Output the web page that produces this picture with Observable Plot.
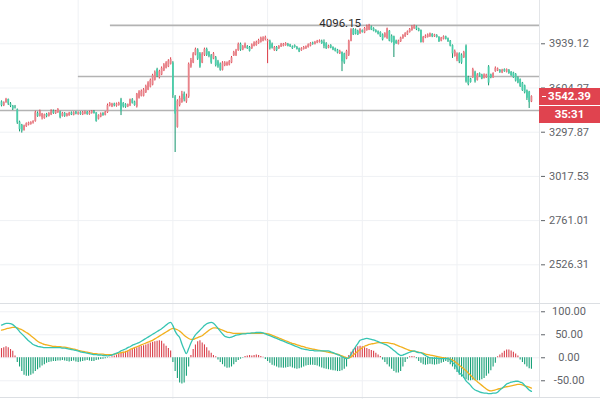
<!DOCTYPE html>
<html><head><meta charset="utf-8">
<script src="https://cdn.jsdelivr.net/npm/d3@7"></script>
<script src="https://cdn.jsdelivr.net/npm/@observablehq/plot@0.6"></script>
<style>
body{margin:0;background:#fff;}
#wrap{position:relative;width:600px;height:399px;overflow:hidden;font-family:Roboto,sans-serif;}
#wrap svg{display:block;}
.tag{position:absolute;left:539px;width:61px;height:17px;background:#e0434f;color:#fff;font:bold 11.5px Roboto,sans-serif;text-align:center;line-height:17px;}
.tag.first::before{content:"";position:absolute;left:3px;top:8px;width:4px;height:1px;background:#fff;}
.sep{position:absolute;background:#dcdfe3;}
</style></head><body><div id="wrap"></div>
<script>
// ---- candle data (index 0..235) ----
const open = [
3505,3478,3500,3522,3490,3475,3470,3450,3365,3345,
3310,3335,3345,3350,3360,3370,3425,3405,3395,3390,
3418,3405,3415,3440,3422,3430,3435,3405,3425,3405,
3410,3428,3412,3432,3418,3430,3415,3420,3432,3418,
3425,3438,3428,3385,3400,3425,3412,3430,3478,3470,
3490,3475,3480,3520,3495,3485,3470,3478,3520,3505,
3470,3530,3545,3545,3570,3590,3610,3625,3660,3740,
3680,3700,3730,3750,3760,3780,3790,3540,3330,3480,
3500,3560,3505,3540,3760,3790,3850,3890,3860,3790,
3850,3895,3870,3845,3820,3830,3800,3780,3735,3770,
3770,3775,3790,3845,3845,3885,3935,3890,3905,3915,
3910,3900,3920,3925,3940,3950,3960,3970,3955,3960,
3935,3885,3910,3900,3915,3920,3925,3935,3930,3915,
3925,3910,3900,3885,3895,3900,3910,3920,3945,3935,
3945,3950,3960,3950,3940,3905,3925,3910,3900,3890,
3860,3870,3860,3820,3850,3960,4055,4050,4040,4020,
4045,4025,4045,4050,4075,4060,4045,4035,4030,4010,
3990,3980,4040,4000,3995,3960,3935,3955,3980,3995,
4010,4030,4045,4060,4075,4060,4045,3950,3985,3990,
3995,4015,3995,4005,3990,3960,3975,3995,3980,3960,
3925,3840,3815,3860,3850,3830,3920,3680,3670,3680,
3720,3660,3710,3700,3675,3680,3760,3700,3680,3725,
3730,3735,3715,3740,3720,3735,3720,3715,3705,3680,
3665,3640,3620,3585,3575,3505];
const high = [
3512,3505,3530,3525,3500,3480,3480,3455,3372,3350,
3345,3360,3365,3368,3375,3440,3435,3448,3425,3420,
3425,3430,3450,3448,3445,3458,3440,3432,3430,3425,
3432,3435,3436,3438,3435,3436,3438,3440,3438,3440,
3445,3445,3430,3415,3428,3430,3438,3490,3500,3495,
3496,3497,3502,3530,3500,3492,3490,3525,3528,3510,
3565,3585,3590,3600,3625,3650,3670,3705,3730,3750,
3735,3760,3785,3800,3815,3830,3800,3550,3520,3545,
3580,3575,3560,3790,3825,3870,3905,3900,3870,3870,
3905,3905,3878,3855,3870,3840,3810,3790,3800,3800,
3798,3808,3840,3880,3895,3945,3945,3925,3945,3925,
3918,3938,3955,3960,3975,3992,3995,4000,3975,3968,
3945,3918,3918,3925,3942,3942,3948,3942,3935,3922,
3930,3918,3905,3908,3918,3922,3938,3948,3952,3958,
3966,3970,3968,3970,3948,3928,3932,3915,3905,3895,
3888,3875,3865,3888,3968,4060,4062,4058,4048,4060,
4050,4070,4090,4096.15,4082,4068,4052,4042,4035,4018,
4028,4065,4045,4010,4000,3968,3968,3992,4012,4028,
4042,4062,4085,4090,4082,4065,4050,3998,4010,4018,
4025,4020,4015,4012,3996,3990,4002,4000,3985,3965,
3930,3890,3868,3868,3860,3880,3930,3690,3675,3750,
3728,3710,3715,3705,3708,3705,3770,3706,3716,3760,
3752,3740,3742,3745,3745,3740,3725,3720,3710,3685,
3670,3645,3625,3590,3580,3548];
const low = [
3470,3472,3495,3480,3465,3445,3455,3350,3300,3292,
3305,3330,3340,3345,3352,3365,3398,3400,3380,3385,
3395,3400,3410,3418,3418,3425,3388,3400,3398,3400,
3405,3410,3408,3415,3412,3412,3410,3415,3412,3412,
3420,3420,3365,3380,3395,3405,3408,3425,3470,3465,
3470,3468,3475,3410,3462,3460,3465,3472,3490,3475,
3462,3525,3540,3540,3565,3585,3605,3620,3655,3680,
3670,3695,3725,3745,3755,3775,3530,3166,3325,3470,
3495,3505,3495,3530,3750,3785,3845,3810,3750,3785,
3840,3840,3830,3780,3815,3760,3750,3728,3730,3762,
3765,3768,3785,3840,3840,3880,3880,3885,3900,3895,
3875,3895,3915,3920,3935,3945,3955,3962,3785,3890,
3898,3880,3878,3895,3910,3915,3920,3915,3910,3895,
3905,3890,3870,3880,3890,3895,3905,3915,3928,3930,
3940,3945,3935,3900,3895,3900,3900,3885,3875,3860,
3855,3725,3780,3815,3840,3955,4005,4010,4005,4015,
4025,4020,4040,4045,4045,4035,4025,4010,3990,3962,
3985,3975,3955,3945,3832,3935,3930,3950,3975,3990,
4005,4025,4040,4055,4045,4035,3945,3945,3980,3985,
3990,3988,3990,3985,3950,3955,3970,3970,3950,3915,
3825,3835,3800,3785,3780,3825,3640,3620,3640,3675,
3640,3655,3685,3665,3670,3675,3620,3672,3675,3720,
3725,3712,3710,3720,3715,3705,3690,3675,3648,3635,
3608,3580,3562,3515,3459,3500];
const close = [
3478,3500,3522,3490,3475,3455,3462,3360,3315,3305,
3340,3355,3360,3362,3370,3430,3405,3440,3420,3415,
3405,3425,3435,3425,3440,3452,3395,3425,3405,3418,
3425,3415,3430,3420,3428,3418,3430,3435,3418,3432,
3440,3425,3370,3410,3420,3410,3432,3480,3492,3488,
3478,3490,3495,3440,3470,3468,3485,3520,3495,3480,
3560,3575,3580,3590,3615,3640,3660,3695,3720,3690,
3725,3750,3775,3790,3805,3815,3550,3420,3510,3530,
3560,3520,3540,3780,3810,3860,3895,3820,3760,3860,
3895,3850,3840,3790,3860,3770,3760,3735,3790,3790,
3790,3800,3830,3870,3885,3935,3890,3915,3935,3900,
3880,3930,3945,3950,3965,3985,3985,3990,3965,3900,
3905,3910,3885,3918,3935,3935,3940,3920,3915,3900,
3910,3895,3875,3900,3910,3915,3930,3940,3935,3950,
3960,3962,3940,3920,3900,3920,3905,3890,3880,3865,
3880,3800,3790,3880,3960,4050,4010,4015,4010,4055,
4030,4062,4080,4078,4050,4040,4030,4015,3995,3970,
4020,4060,3960,3950,3925,3940,3960,3985,4005,4020,
4035,4055,4070,4080,4055,4040,3950,3990,4000,4010,
4020,3995,4010,3990,3955,3985,3995,3975,3955,3920,
3860,3880,3860,3800,3790,3870,3650,3630,3645,3740,
3650,3700,3690,3670,3700,3700,3640,3680,3710,3750,
3745,3720,3735,3725,3740,3710,3695,3680,3655,3640,
3615,3585,3570,3530,3500,3542.39];

// ---- MACD data ----
const dif = [
71,73,75,75,74,72,68,63,57,52, 47,42,37,33,29,27,25,24,23,22,
22,22,22,22,22,22,22,21,21,20, 19,18,17,16,15,13,12,11,10,9,
8,7,7,6,6,5,5,4,5,6, 8,10,12,15,17,19,22,24,27,29,
31,33,36,39,42,45,48,51,54,57, 60,63,67,71,75,77,70,58,50,44,
30,18,9,20,32,42,50,55,60,65, 70,74,76,77,75,70,64,58,52,47,
45,44,45,47,49,50,51,52,52,53, 53,54,54,55,55,55,54,52,50,48,
46,44,42,40,38,36,34,32,30,28, 26,24,22,20,19,18,17,16,16,15,
15,15,15,15,15,15,13,11,9,7, 5,2,0,-2,0,8,16,24,31,38,
40,41,42,41,40,39,37,35,33,31, 29,27,24,20,16,12,8,5,6,8,
10,12,14,15,13,11,11,8,5,2, 0,0,-1,-1,-2,-2,-2,-2,-2,-5,
-10,-15,-22,-33,-36,-42,-50,-55,-60,-66, -70,-72,-74,-76,-77,-77,-78,-78,-77,-77,
-75,-70,-66,-62,-57,-55,-53,-52,-51,-51, -53,-55,-60,-65,-70,-73];
const dea = [
60,61,63,64,65,66,66,65,63,61, 58,55,52,48,44,40,36,33,31,29,
28,27,26,25,25,24,24,23,23,22, 21,20,19,18,16,15,14,13,12,11,
10,9,9,8,8,8,7,7,7,7, 8,9,10,11,12,13,15,18,20,22,
24,26,28,30,32,34,36,38,41,44, 47,50,53,56,59,62,64,63,61,58,
54,49,45,42,40,40,42,44,46,48, 52,56,60,63,65,65,64,62,60,58,
56,55,54,53,53,53,53,53,53,53, 53,53,53,53,53,53,53,53,52,51,
49,47,45,43,41,39,37,35,33,31, 30,28,27,25,24,22,21,20,19,18,
17,16,15,14,13,12,11,10,9,8, 6,4,2,0,-1,2,6,10,14,18,
22,25,27,29,30,31,32,33,33,33, 33,33,32,31,30,28,26,24,22,20,
18,16,15,14,13,12,11,10,8,7, 6,5,4,3,2,1,0,-1,-2,-3,
-5,-8,-12,-16,-20,-24,-28,-33,-38,-43, -48,-52,-56,-60,-64,-68,-71,-72,-71,-70,
-68,-67,-66,-64,-63,-62,-61,-60,-59,-58, -58,-59,-61,-62,-64,-66];
const hist = [
20,22,24,22,18,14,4,
-10,-20,-30,-38,-40,-40,-38,-35,-30,
-26,-22,-18,-15,-12,-10,-9,-8,-8,-7,-7,
-6,-7,-8,-9,-8,-7,-9,-10,-9,-8,-7,-6,-7,-8,-8,-6,-5,-4,
-3,-2,-1,1,
2,4,6,8,10,12,14,15,16,18,20,22,24,25,26,28,30,32,34,35,36,
37,36,30,25,20,15,
-10,-30,-45,-55,-57,-55,-40,-20,
5,18,28,35,37,
32,28,22,15,10,5,2,
-5,-10,-15,-20,-23,-22,-20,-15,-10,-6,-3,-1,
3,4,5,4,5,6,5,3,1,
-4,-8,-12,-16,-18,-20,-22,-22,-23,-22,-21,-20,-22,-24,-25,-24,-22,-20,-18,-17,-16,-16,-17,-18,-20,-22,-24,-25,-26,-27,-28,-29,-30,-30,-28,-25,-20,
5,12,18,22,24,25,24,22,20,18,16,14,10,6,3,
-5,-10,-15,-20,-25,-30,-33,-33,-30,
-20,-10,-3,2,3,2,-2,
-8,-12,-15,-16,-15,-14,-15,-16,-15,-14,-12,-10,-8,
-10,-15,-20,-26,-32,-38,-42,-45,-48,-50,-50,-49,-50,-50,-50,-48,-45,-40,-35,-28,-20,-12,
2,6,10,14,17,17,15,12,8,4,
-5,-10,-15,-20,-24,-25];

// ---- ticks / annotations ----
const priceTicks = [3939.12, 3604.27, 3297.87, 3017.53, 2761.01, 2526.31];
const macdTicks = [100, 50, 0, -50];
const gridIdx = [34, 76, 118, 160, 202];
const levelPrice = [4088, 3688, 3445];
const levelFrom = [48.3, 34.1, -0.443];
const maxIndex = 163, maxPrice = 4096.15;
const lastPrice = 3542.39;
const countdown = "35:31";

// ---- build ----
const N = close.length;
const xDomain = [-0.443, 239.02];
const candles = d3.range(N).map(i => ({i, o: open[i], h: high[i], l: low[i], c: close[i], up: close[i] >= open[i]}));
const mrows = d3.range(N).map(i => ({i, dif: dif[i], dea: dea[i], h: hist[i]}));
const levels = levelPrice.map((v, k) => ({v, from: levelFrom[k], to: xDomain[1]}));

const RED = "#dc3a45", RED_L = "#e8838a", GRN = "#12936b", GRN_L = "#4ccdaa";
const GRID = "#eff1f4";
const style = {fontFamily: "Roboto, sans-serif", fontSize: "11px", color: "#5f6368", background: "transparent"};

const main = Plot.plot({
  width: 600, height: 303, marginTop: 0, marginBottom: 0, marginLeft: 0, marginRight: 60,
  style,
  x: {domain: xDomain, axis: null},
  y: {type: "log", domain: [2337.4, 4297.2], axis: null},
  marks: [
    Plot.gridY(priceTicks, {stroke: GRID, strokeOpacity: 1}),
    Plot.gridX(gridIdx, {stroke: GRID, strokeOpacity: 1}),
    Plot.ruleY(levels, {y: "v", x1: "from", x2: "to", stroke: "#b3b3b3", strokeWidth: 1.6}),
    Plot.ruleX(candles, {filter: d => d.up, x: "i", y1: "l", y2: "h", stroke: RED, strokeWidth: 1}),
    Plot.ruleX(candles, {filter: d => !d.up, x: "i", y1: "l", y2: "h", stroke: GRN, strokeWidth: 1}),
    Plot.ruleX(candles, {filter: d => d.up, x: "i", y1: "o", y2: "c", stroke: RED_L, strokeWidth: 1.8}),
    Plot.ruleX(candles, {filter: d => !d.up, x: "i", y1: "o", y2: "c", stroke: GRN_L, strokeWidth: 1.8}),
    Plot.text([{i: maxIndex, v: maxPrice}], {x: "i", y: "v", text: d => d.v.toFixed(2), textAnchor: "end", dx: -8, dy: -1, fill: "#2b2b2b", fontSize: 11.5}),
    Plot.axisY(priceTicks, {anchor: "right", tickSize: 4, tickPadding: 24.5, textAnchor: "middle", tickFormat: d => d.toFixed(2)})
  ]
});

const macd = Plot.plot({
  width: 600, height: 96, marginTop: 0, marginBottom: 0, marginLeft: 0, marginRight: 60,
  style,
  x: {domain: xDomain, axis: null},
  y: {domain: [-90.7, 118.0], axis: null},
  marks: [
    Plot.gridY(macdTicks, {stroke: GRID, strokeOpacity: 1}),
    Plot.gridX(gridIdx, {stroke: GRID, strokeOpacity: 1}),
    Plot.ruleX(mrows, {filter: d => d.h >= 0, x: "i", y1: 0, y2: "h", stroke: "#d9414c", strokeWidth: 1.1}),
    Plot.ruleX(mrows, {filter: d => d.h < 0, x: "i", y1: 0, y2: "h", stroke: "#17a077", strokeWidth: 1.1}),
    Plot.line(mrows, {x: "i", y: "dea", stroke: "#f2b01e", strokeWidth: 1.3, curve: "monotone-x"}),
    Plot.line(mrows, {x: "i", y: "dif", stroke: "#36c4b2", strokeWidth: 1.3, curve: "monotone-x"}),
    Plot.axisY(macdTicks, {anchor: "right", tickSize: 4, tickPadding: 24.5, textAnchor: "middle", tickFormat: d => d.toFixed(2)})
  ]
});

const wrap = document.getElementById("wrap");
wrap.appendChild(main);
wrap.appendChild(macd);

function addDiv(cls, css, text) {
  const d = document.createElement("div");
  d.className = cls;
  Object.assign(d.style, css);
  if (text) d.textContent = text;
  wrap.appendChild(d);
  return d;
}
// separators
addDiv("sep", {left: "539px", top: "0px", width: "1px", height: "397px", background: "#e3e5e8"});
addDiv("sep", {left: "0px", top: "303px", width: "600px", height: "1px"});
addDiv("sep", {left: "0px", top: "397px", width: "600px", height: "1px"});
// price tags
const yPix = main.scale("y").apply(lastPrice);
addDiv("tag first", {top: (yPix - 8.5) + "px"}, lastPrice.toFixed(2));
addDiv("tag", {top: (yPix + 9.5) + "px"}, countdown);
</script>
</body></html>
